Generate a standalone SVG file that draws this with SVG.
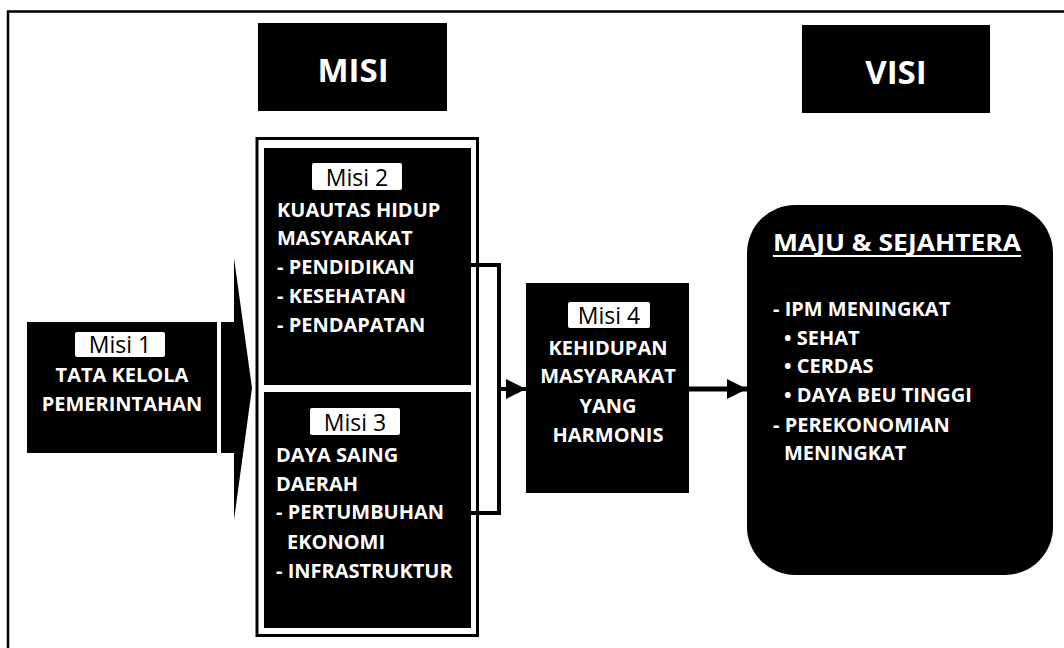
<svg xmlns="http://www.w3.org/2000/svg" width="1064" height="648" viewBox="0 0 1064 648">
<defs>
<style>
.blk{fill:#000}
.t{font-family:"Open Sans","Liberation Sans",sans-serif;font-weight:bold;font-size:20px;fill:#fff}
.ttl{font-family:"Open Sans","Liberation Sans",sans-serif;font-weight:bold;font-size:33px;fill:#fff;text-anchor:middle}
.lab{fill:#fff}
.lt{font-family:"Open Sans","Liberation Sans",sans-serif;font-size:23px;fill:#000;text-anchor:middle}
.mid{text-anchor:middle}
.ln{fill:none;stroke:#000}
</style>
<marker id="ah" viewBox="0 0 20 20" refX="20" refY="10" markerWidth="20" markerHeight="20" markerUnits="userSpaceOnUse" orient="auto">
<path d="M0,0 L20,10 L0,20 z" fill="#000"/>
</marker>
</defs>
<rect width="1064" height="648" fill="#fff"/>
<path class="ln" d="M8,648 V11.5 H1064" stroke-width="2.5"/>

<g id="title-misi">
<rect class="blk" x="258" y="23" width="189" height="88"/>
<text class="ttl" x="353" y="82">MISI</text>
</g>
<g id="title-visi">
<rect class="blk" x="802" y="25" width="188" height="88"/>
<text class="ttl" x="896" y="84">VISI</text>
</g>

<g id="misi1">
<rect class="blk" x="27" y="322" width="190" height="131"/>
<rect class="lab" x="75" y="332" width="90" height="25" rx="2"/>
<text class="lt" x="120" y="353">Misi 1</text>
<text class="t mid" x="122" y="382">TATA KELOLA</text>
<text class="t mid" x="122" y="411">PEMERINTAHAN</text>
</g>

<g id="misi-frame">
<rect class="ln" x="257" y="138.5" width="220.5" height="497" stroke-width="3"/>
</g>

<g id="misi2">
<rect class="blk" x="264" y="148" width="207" height="237"/>
<rect class="lab" x="312" y="163" width="90" height="27" rx="2"/>
<text class="lt" x="357" y="186">Misi 2</text>
<text class="t" x="277" y="217">KUAUTAS HIDUP</text>
<text class="t" x="277" y="245">MASYARAKAT</text>
<text class="t" x="277" y="274">- PENDIDIKAN</text>
<text class="t" x="277" y="303">- KESEHATAN</text>
<text class="t" x="277" y="332">- PENDAPATAN</text>
</g>

<g id="misi3">
<rect class="blk" x="264" y="392" width="207" height="236"/>
<rect class="lab" x="310" y="408" width="90" height="27" rx="2"/>
<text class="lt" x="355" y="431">Misi 3</text>
<text class="t" x="276" y="462">DAYA SAING</text>
<text class="t" x="276" y="491">DAERAH</text>
<text class="t" x="276" y="519">- PERTUMBUHAN</text>
<text class="t" x="287" y="549">EKONOMI</text>
<text class="t" x="276" y="578">- INFRASTRUKTUR</text>
</g>

<g id="misi4">
<rect class="blk" x="526" y="283" width="163" height="210"/>
<rect class="lab" x="568" y="302" width="82" height="26" rx="2"/>
<text class="lt" x="609" y="324">Misi 4</text>
<text class="t mid" x="608" y="355">KEHIDUPAN</text>
<text class="t mid" x="608" y="383">MASYARAKAT</text>
<text class="t mid" x="608" y="413">YANG</text>
<text class="t mid" x="608" y="442">HARMONIS</text>
</g>

<g id="visi">
<rect class="blk" x="747" y="205" width="306" height="370" rx="48"/>
<text class="t" x="773" y="251" style="font-size:23px" textLength="248" lengthAdjust="spacingAndGlyphs">MAJU &amp; SEJAHTERA</text>
<line x1="773" y1="256" x2="1021" y2="256" stroke="#fff" stroke-width="2"/>
<text class="t" x="773" y="316">- IPM MENINGKAT</text>
<text class="t" x="784" y="345">• SEHAT</text>
<text class="t" x="784" y="373">• CERDAS</text>
<text class="t" x="784" y="402">• DAYA BEU TINGGI</text>
<text class="t" x="773" y="432">- PEREKONOMIAN</text>
<text class="t" x="784" y="460">MENINGKAT</text>
</g>

<g id="connectors">
<path class="blk" d="M221,322 H234 V258 L252,388 L234,520 V453 H221 Z"/>
<path class="ln" d="M471,265 H499 V513 H471" stroke-width="4"/>
<line class="ln" x1="499" y1="389" x2="526" y2="389" stroke-width="4" marker-end="url(#ah)"/>
<line class="ln" x1="689" y1="389" x2="747" y2="389" stroke-width="5" marker-end="url(#ah)"/>
</g>
</svg>
